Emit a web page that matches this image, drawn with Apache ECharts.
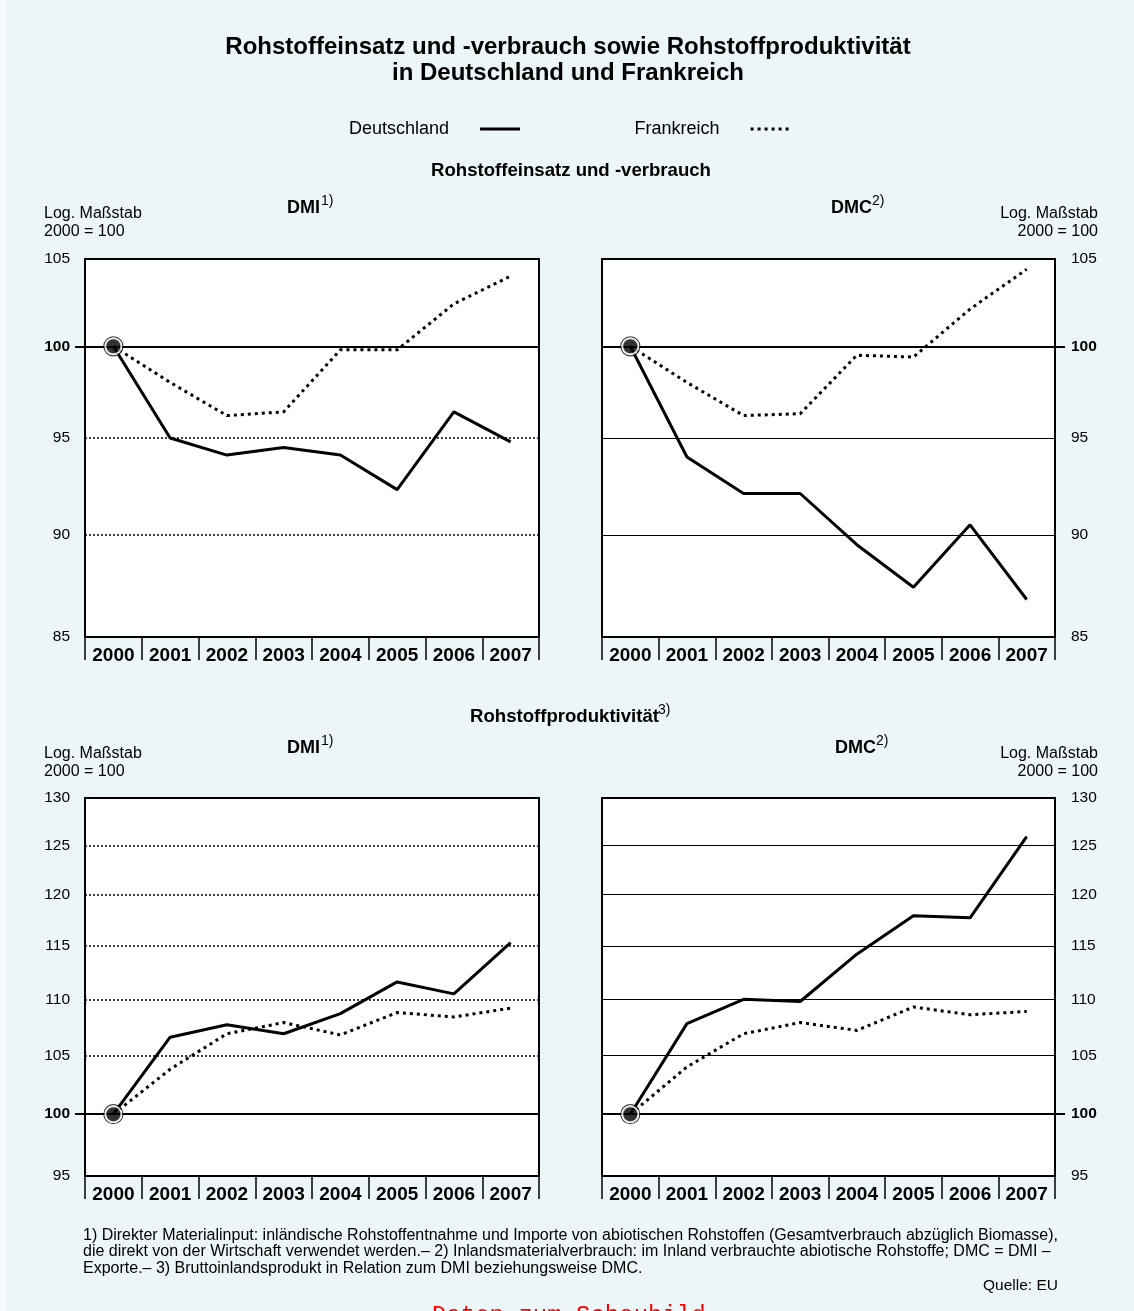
<!DOCTYPE html>
<html lang="de">
<head>
<meta charset="utf-8">
<title>Rohstoffeinsatz und -verbrauch sowie Rohstoffproduktivität</title>
<script src="https://cdn.jsdelivr.net/npm/echarts@6/dist/echarts.min.js"></script>
<style>
  html, body { margin: 0; padding: 0; background: #ECF5F8; }
  #chart { width: 1134px; height: 1311px; }
</style>
</head>
<body>
<div id="chart"></div>
<script>
// Jahre
const years = ['2000', '2001', '2002', '2003', '2004', '2005', '2006', '2007'];

// Rohstoffeinsatz und -verbrauch, 2000 = 100
const dmiDeutschland = [100, 95.0, 94.1, 94.5, 94.1, 92.3, 96.4, 94.8];
const dmiFrankreich  = [100, 98.0, 96.2, 96.4, 99.8, 99.8, 102.4, 104.0];
const dmcDeutschland = [100, 94.0, 92.1, 92.1, 89.5, 87.4, 90.5, 86.8];
const dmcFrankreich  = [100, 98.0, 96.2, 96.3, 99.5, 99.4, 102.1, 104.4];

// Rohstoffproduktivität, 2000 = 100
const prodDmiDeutschland = [100, 106.6, 107.7, 106.9, 108.7, 111.6, 110.5, 115.3];
const prodDmiFrankreich  = [100, 103.8, 106.9, 107.9, 106.8, 108.8, 108.4, 109.2];
const prodDmcDeutschland = [100, 107.8, 110.0, 109.8, 114.2, 117.9, 117.7, 125.9];
const prodDmcFrankreich  = [100, 104.0, 106.9, 107.9, 107.2, 109.3, 108.6, 108.9];

// Skalenwerte (logarithmischer Maßstab)
const ticksVerbrauch = [85, 90, 95, 100, 105];
const ticksProduktivitaet = [95, 100, 105, 110, 115, 120, 125, 130];

const FONT = '"Liberation Sans", Arial, Helvetica, sans-serif';

const panels = [
  { grid: { left: 85,  top: 259, width: 454, height: 378 }, de: dmiDeutschland,     fr: dmiFrankreich,     ticks: ticksVerbrauch,      side: 'left',  raster: 'dotted' },
  { grid: { left: 602, top: 259, width: 453, height: 378 }, de: dmcDeutschland,     fr: dmcFrankreich,     ticks: ticksVerbrauch,      side: 'right', raster: 'solid' },
  { grid: { left: 85,  top: 798, width: 454, height: 378 }, de: prodDmiDeutschland, fr: prodDmiFrankreich, ticks: ticksProduktivitaet, side: 'left',  raster: 'dotted' },
  { grid: { left: 602, top: 798, width: 453, height: 378 }, de: prodDmcDeutschland, fr: prodDmcFrankreich, ticks: ticksProduktivitaet, side: 'right', raster: 'solid' }
];

const grids = [], xAxes = [], yAxes = [], series = [];

panels.forEach((p, i) => {
  grids.push(Object.assign({
    show: true, backgroundColor: '#ffffff', borderColor: '#000000', borderWidth: 2
  }, p.grid));

  xAxes.push({
    gridIndex: i, type: 'category', data: years, boundaryGap: true,
    axisLine: { show: false },
    axisTick: { show: true, interval: 0, length: 23, lineStyle: { color: '#000', width: 1.5 } },
    axisLabel: { interval: 0, margin: 9, color: '#000', fontSize: 19, fontWeight: 'bold', fontFamily: FONT },
    splitLine: { show: false }
  });

  const lo = p.ticks[0], hi = p.ticks[p.ticks.length - 1];
  yAxes.push({
    gridIndex: i, type: 'log', logBase: 10, min: lo, max: hi, position: p.side,
    axisLine: { show: false },
    axisLabel: { show: false },
    splitLine: { show: false },
    axisTick: { show: true, customValues: [100], length: 10, lineStyle: { color: '#000', width: 2 } }
  });

  // Raster und Skalenbeschriftung
  const rasterLines = p.ticks.map(v => {
    const edge = (v === lo || v === hi);
    let lineStyle;
    if (edge) lineStyle = { color: 'transparent', width: 0 };
    else if (v === 100) lineStyle = { color: '#000', width: 2, type: 'solid' };
    else if (p.raster === 'dotted') lineStyle = { color: '#000', width: 1.5, type: [2, 2] };
    else lineStyle = { color: '#000', width: 1, type: 'solid' };
    return {
      yAxis: v,
      lineStyle: lineStyle,
      label: {
        show: true,
        position: p.side === 'left' ? 'start' : 'end',
        distance: p.side === 'left' ? 15 : 16,
        formatter: String(v),
        color: '#000',
        fontSize: 15.5,
        fontFamily: FONT,
        fontWeight: v === 100 ? 'bold' : 'normal'
      }
    };
  });

  series.push({
    name: 'Raster', type: 'line', xAxisIndex: i, yAxisIndex: i, data: [], z: 1,
    silent: true, animation: false,
    markLine: { silent: true, symbol: ['none', 'none'], animation: false, data: rasterLines }
  });

  series.push({
    name: 'Frankreich', type: 'line', xAxisIndex: i, yAxisIndex: i, data: p.fr,
    symbol: 'none', z: 4, animation: false,
    itemStyle: { color: '#000' },
    lineStyle: { color: '#000', width: 3, type: [3, 4], cap: 'butt' }
  });
  series.push({
    name: 'Deutschland', type: 'line', xAxisIndex: i, yAxisIndex: i, data: p.de,
    symbol: 'none', z: 5, animation: false,
    itemStyle: { color: '#000' },
    lineStyle: { color: '#000', width: 3, type: 'solid' }
  });

  // Ausgangspunkt 2000 = 100
  series.push({
    name: 'Basis', type: 'scatter', xAxisIndex: i, yAxisIndex: i, z: 6, animation: false, silent: true,
    data: [[years[0], p.de[0]]],
    symbol: 'circle', symbolSize: 19,
    itemStyle: { color: 'transparent', borderColor: '#000', borderWidth: 1.2 }
  });
  series.push({
    name: 'Basis', type: 'scatter', xAxisIndex: i, yAxisIndex: i, z: 7, animation: false, silent: true,
    data: [[years[0], p.de[0]]],
    symbol: 'circle', symbolSize: 16,
    itemStyle: { color: '#000', borderColor: '#ffffff', borderWidth: 2 }
  });
});

function txt(x, y, text, o) {
  o = o || {};
  return {
    type: 'text', x: x, y: y, silent: true, z: 10,
    style: {
      text: text,
      fill: o.color || '#000',
      font: (o.weight || 'normal') + ' ' + (o.size || 15) + 'px ' + (o.family || FONT),
      align: o.align || 'left',
      verticalAlign: o.valign || 'middle',
      lineHeight: o.lineHeight
    }
  };
}

const footnote =
  '1) Direkter Materialinput: inländische Rohstoffentnahme und Importe von abiotischen Rohstoffen (Gesamtverbrauch abzüglich Biomasse),\n' +
  'die direkt von der Wirtschaft verwendet werden.– 2) Inlandsmaterialverbrauch: im Inland verbrauchte abiotische Rohstoffe; DMC = DMI –\n' +
  'Exporte.– 3) Bruttoinlandsprodukt in Relation zum DMI beziehungsweise DMC.';

const graphics = [
  { type: 'rect', shape: { x: 0, y: 0, width: 5, height: 1311 }, style: { fill: '#F6FAFC' }, silent: true },
  txt(568, 47, 'Rohstoffeinsatz und -verbrauch sowie Rohstoffproduktivität', { size: 24, weight: 'bold', align: 'center' }),
  txt(568, 73, 'in Deutschland und Frankreich', { size: 24, weight: 'bold', align: 'center' }),
  txt(571, 171, 'Rohstoffeinsatz und -verbrauch', { size: 18.6, weight: 'bold', align: 'center' }),
  txt(287, 208, 'DMI', { size: 18, weight: 'bold' }),
  txt(321, 201, '1)', { size: 14 }),
  txt(831, 208, 'DMC', { size: 18, weight: 'bold' }),
  txt(872, 201, '2)', { size: 14 }),
  txt(44, 214, 'Log. Maßstab', { size: 16 }),
  txt(44, 232, '2000 = 100', { size: 16 }),
  txt(1098, 214, 'Log. Maßstab', { size: 16, align: 'right' }),
  txt(1098, 232, '2000 = 100', { size: 16, align: 'right' }),
  txt(470, 717, 'Rohstoffproduktivität', { size: 18.6, weight: 'bold' }),
  txt(658, 710, '3)', { size: 14 }),
  txt(287, 748, 'DMI', { size: 18, weight: 'bold' }),
  txt(321, 741, '1)', { size: 14 }),
  txt(835, 748, 'DMC', { size: 18, weight: 'bold' }),
  txt(876, 741, '2)', { size: 14 }),
  txt(44, 754, 'Log. Maßstab', { size: 16 }),
  txt(44, 772, '2000 = 100', { size: 16 }),
  txt(1098, 754, 'Log. Maßstab', { size: 16, align: 'right' }),
  txt(1098, 772, '2000 = 100', { size: 16, align: 'right' }),
  txt(83, 1227, footnote, { size: 16, valign: 'top', lineHeight: 16.5 }),
  txt(1058, 1286, 'Quelle: EU', { size: 15.5, align: 'right' }),
  txt(432, 1304, 'Daten zum Schaubild', { size: 24, valign: 'top', color: '#FF0000', family: '"Liberation Mono", "Courier New", monospace' })
];

const chart = echarts.init(document.getElementById('chart'), null, { renderer: 'canvas' });
chart.setOption({
  backgroundColor: '#ECF5F8',
  animation: false,
  textStyle: { fontFamily: FONT },
  legend: {
    data: ['Deutschland', 'Frankreich'],
    left: 344, top: 115,
    align: 'right',
    itemWidth: 40, itemHeight: 16, itemGap: 113,
    selectedMode: false,
    itemStyle: { color: 'transparent', borderWidth: 0, opacity: 0 },
    lineStyle: { width: 3 },
    textStyle: { fontSize: 18, color: '#000', fontFamily: FONT, padding: [0, 26, 0, 0] }
  },
  grid: grids,
  xAxis: xAxes,
  yAxis: yAxes,
  series: series,
  graphic: graphics
});
</script>
</body>
</html>
